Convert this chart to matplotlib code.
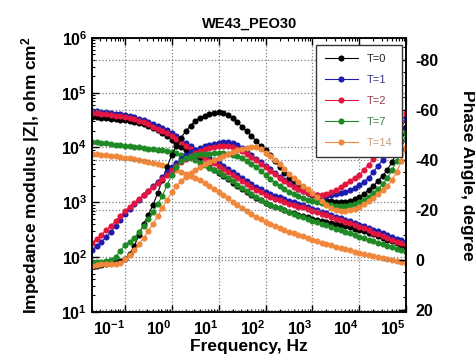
import numpy as np
import matplotlib

matplotlib.use("Agg")
import matplotlib.pyplot as plt
from matplotlib.ticker import LogLocator, FixedLocator, MultipleLocator, NullFormatter

plt.rcParams["font.family"] = ["Liberation Sans", "DejaVu Sans"]
plt.rcParams["font.weight"] = "bold"
plt.rcParams["axes.unicode_minus"] = False
plt.rcParams["mathtext.fontset"] = "custom"
plt.rcParams["mathtext.rm"] = "Liberation Sans:bold"
plt.rcParams["mathtext.bf"] = "Liberation Sans:bold"
plt.rcParams["mathtext.it"] = "Liberation Sans:bold"

# frequency grid, Hz (10 points per decade)
freq = [0.02, 0.0251, 0.0316, 0.0398, 0.0501, 0.0631, 0.0794,
        0.1, 0.126, 0.158, 0.2, 0.251, 0.316, 0.398, 0.501, 0.631, 0.794,
        1, 1.26, 1.58, 2, 2.51, 3.16, 3.98, 5.01, 6.31, 7.94,
        10, 12.6, 15.8, 20, 25.1, 31.6, 39.8, 50.1, 63.1, 79.4,
        100, 126, 158, 200, 251, 316, 398, 501, 631, 794,
        1000, 1260, 1580, 2000, 2510, 3160, 3980, 5010, 6310, 7940,
        10000, 12600, 15800, 20000, 25100, 31600, 39800, 50100, 63100, 79400,
        100000]

labels = ["T=0", "T=1", "T=2", "T=7", "T=14"]
colors = ["#000000", "#1c1cb0", "#e3163f", "#1f8a25", "#f0873a"]
legend_text_colors = ["#222222", "#3a3a8a", "#9a3a4a", "#3a7a4a", "#c8a080"]

# |Z|, ohm cm2
z_t0 = [36200, 35400, 34700, 34000, 33300, 32600, 31900, 31200, 30600, 29300,
        28100, 26400, 24800, 22800, 20500, 18500, 15900, 13800, 11900, 10300,
        8850, 7640, 6740, 5820, 5020, 4430, 3900, 3440, 3030, 2620,
        2260, 1990, 1760, 1550, 1360, 1200, 1080, 975, 897, 824,
        774, 727, 668, 627, 589, 565, 530, 498, 477, 458,
        439, 421, 404, 387, 363, 348, 327, 313, 294, 277,
        260, 244, 224, 206, 193, 178, 167, 154]
z_t1 = [46600, 45600, 44700, 43700, 42800, 41000, 40200, 39400, 37700, 35400,
        33300, 31200, 29300, 27000, 24800, 22800, 20500, 18500, 16300, 14100,
        12100, 10500, 9040, 8140, 7330, 6460, 5820, 5240, 4620, 4060,
        3590, 3160, 2790, 2460, 2170, 1910, 1720, 1550, 1420, 1310,
        1230, 1150, 1060, 995, 935, 877, 824, 759, 711, 668,
        627, 577, 542, 508, 477, 448, 412, 387, 363, 341,
        313, 294, 277, 254, 234, 215, 202, 189]
z_t2 = [42900, 42000, 41100, 40200, 39400, 37700, 37000, 36200, 34700, 32600,
        30600, 28700, 27000, 23800, 21800, 20100, 18000, 16300, 14300, 12400,
        10600, 9240, 7960, 7160, 6450, 5680, 5120, 4610, 4070, 3570,
        3160, 2780, 2460, 2160, 1910, 1680, 1510, 1360, 1250, 1150,
        1080, 1010, 933, 876, 823, 807, 758, 698, 654, 615,
        577, 531, 499, 467, 439, 412, 379, 356, 334, 314,
        275, 259, 244, 224, 206, 189, 178, 166]
z_t7 = [12700, 12400, 12100, 11900, 11600, 11200, 10900, 10700, 10500, 10300,
        10000, 9840, 9430, 9230, 9040, 8850, 8670, 8310, 7810, 7330,
        6880, 6320, 5820, 5240, 4710, 4240, 3900, 3590, 3160, 2790,
        2410, 2080, 1830, 1610, 1420, 1250, 1110, 975, 897, 824,
        774, 727, 668, 614, 565, 530, 498, 458, 430, 404,
        379, 356, 327, 307, 288, 271, 249, 234, 219, 206,
        193, 182, 174, 160, 150, 141, 133, 124]
z_t14 = [7640, 7480, 7330, 7180, 7030, 6880, 6740, 6460, 6320, 6190,
         5940, 5690, 5460, 5240, 5020, 4810, 4520, 4240, 3900, 3590,
         3300, 3030, 2790, 2510, 2260, 1990, 1760, 1550, 1360, 1180,
         1020, 897, 791, 697, 614, 542, 488, 439, 404, 371,
         341, 313, 288, 271, 254, 239, 224, 206, 193, 182,
         171, 163, 154, 147, 138, 133, 124, 119, 114, 110,
         105, 101, 96.7, 92.7, 88.9, 85.3, 81.8, 78.4]

# phase angle, degree
ph_t0 = [2.4, 2.4, 2.0, 1.6, 1.2, 0.8, 0.4, -0.4, -2.4, -5.6,
         -10.0, -14.4, -18.0, -22.0, -26.8, -32.0, -37.2, -42.0, -45.6, -48.8,
         -51.6, -53.6, -55.6, -56.8, -57.6, -58.4, -58.8, -59.2, -58.8, -58.0,
         -56.8, -55.2, -53.2, -51.6, -49.6, -47.6, -45.6, -44.0, -42.0, -39.6,
         -37.2, -34.8, -32.8, -30.8, -29.2, -28.0, -26.8, -26.0, -25.2, -24.4,
         -24.0, -23.6, -23.2, -23.2, -23.2, -23.6, -24.4, -25.2, -26.4, -28.0,
         -29.6, -31.6, -33.6, -36.0, -39.2, -42.8, -47.6, -53.2]
ph_t1 = [-4.0, -5.6, -7.2, -9.2, -11.2, -13.6, -16.0, -18.4, -20.4, -22.4,
         -24.0, -26.0, -27.6, -29.6, -31.2, -33.2, -35.2, -37.2, -38.8, -40.4,
         -42.0, -43.2, -44.0, -44.8, -45.6, -46.0, -46.4, -46.8, -47.2, -47.2,
         -46.8, -46.0, -44.8, -43.2, -42.0, -40.4, -39.2, -37.6, -36.4, -34.8,
         -33.2, -32.0, -30.8, -29.6, -28.4, -27.6, -26.8, -26.4, -26.0, -25.6,
         -25.6, -26.0, -26.4, -26.8, -27.2, -28.0, -28.8, -30.0, -31.2, -32.8,
         -35.2, -37.6, -40.0, -42.8, -46.0, -49.2, -52.8, -57.2]
ph_t2 = [-6.8, -8.4, -10.0, -12.0, -13.6, -15.6, -17.6, -19.6, -21.2, -22.8,
         -24.4, -26.0, -27.6, -29.2, -30.8, -32.4, -34.0, -36.0, -37.6, -39.2,
         -40.4, -41.6, -42.8, -43.6, -44.4, -44.8, -45.2, -45.6, -45.6, -45.6,
         -45.2, -44.4, -43.6, -42.4, -41.2, -40.0, -38.4, -37.2, -35.6, -34.4,
         -32.8, -31.6, -30.4, -29.2, -28.4, -27.6, -26.8, -26.4, -26.0, -26.0,
         -26.4, -27.2, -28.0, -29.2, -30.4, -31.6, -32.8, -34.0, -36.0, -38.0,
         -40.4, -42.4, -44.4, -46.8, -49.2, -52.0, -55.2, -58.8]
ph_t7 = [0.8, 0.8, 0.8, 0.4, 0.0, -1.2, -3.6, -6.0, -7.2, -8.8,
         -11.2, -13.6, -16.4, -19.2, -22.4, -25.6, -30.0, -34.0, -37.2, -39.6,
         -40.8, -41.6, -42.0, -42.4, -42.4, -42.4, -42.8, -42.8, -42.8, -42.4,
         -42.0, -41.6, -40.8, -39.6, -38.4, -37.2, -35.6, -34.0, -32.4, -30.8,
         -29.6, -28.4, -27.2, -26.4, -25.6, -24.8, -24.0, -23.6, -23.2, -22.8,
         -22.4, -22.0, -21.6, -21.6, -21.6, -22.0, -22.4, -23.2, -24.0, -25.2,
         -26.8, -28.4, -30.4, -32.8, -36.0, -39.6, -44.4, -50.8]
ph_t14 = [2.4, 2.0, 1.6, 1.6, 1.6, 1.6, 1.2, -0.4, -2.0, -4.0,
          -6.4, -8.8, -11.6, -14.4, -17.6, -20.8, -24.0, -27.2, -29.6, -31.6,
          -33.2, -34.8, -36.0, -37.2, -38.4, -39.2, -40.0, -40.8, -41.6, -42.4,
          -43.2, -44.0, -44.4, -44.8, -45.2, -45.2, -44.4, -42.8, -41.6, -40.0,
          -38.4, -36.4, -34.4, -32.8, -31.2, -29.6, -28.4, -26.8, -25.2, -23.6,
          -22.0, -20.8, -20.0, -19.6, -19.6, -20.0, -20.4, -21.2, -22.4, -23.6,
          -24.8, -26.4, -28.0, -29.6, -32.0, -35.2, -39.6, -45.2]

modulus = [z_t0, z_t1, z_t2, z_t7, z_t14]
phase = [ph_t0, ph_t1, ph_t2, ph_t7, ph_t14]

fig = plt.figure(figsize=(4.75, 3.64), dpi=100)
ax = fig.add_axes([0.194, 0.143, 0.661, 0.753])
ax2 = ax.twinx()

mk = dict(marker="o", markersize=4.4, linewidth=0.8, markeredgewidth=0)
handles = []
for z, ph, lab, c in zip(modulus, phase, labels, colors):
    ax.plot(freq, z, color=c, **mk)
    h, = ax2.plot(freq, ph, color=c, label=lab, **mk)
    handles.append(h)

ax.set_xscale("log")
ax.set_yscale("log")
ax.set_xlim(0.02, 1.0e5)
ax.set_ylim(10, 1e6)
ax2.set_ylim(20.8, -88.8)

ax.xaxis.set_major_locator(FixedLocator([0.1, 1, 10, 100, 1000, 10000, 100000]))
ax.xaxis.set_minor_locator(LogLocator(base=10, subs=np.arange(2, 10), numticks=20))
ax.xaxis.set_minor_formatter(NullFormatter())
ax.set_xticklabels([r"$\mathbf{10^{%d}}$" % e for e in range(-1, 6)], ha="right")
ax.yaxis.set_major_locator(FixedLocator([10, 100, 1000, 1e4, 1e5, 1e6]))
ax.yaxis.set_minor_locator(LogLocator(base=10, subs=np.arange(2, 10), numticks=20))
ax.yaxis.set_minor_formatter(NullFormatter())
ax.set_yticklabels([r"$\mathbf{10^{%d}}$" % e for e in range(1, 7)])

ax2.yaxis.set_major_locator(FixedLocator([20, 0, -20, -40, -60, -80]))
ax2.yaxis.set_minor_locator(MultipleLocator(5))

ax.tick_params(which="both", direction="in", top=True, right=False, labelsize=11.5)
ax.tick_params(which="major", length=5, width=1.0)
ax.tick_params(which="minor", length=2.5, width=0.8)
ax.tick_params(axis="x", pad=5)
ax2.tick_params(which="both", direction="in", labelsize=11.5, pad=7)
ax2.tick_params(which="major", length=5, width=1.0)
ax2.tick_params(which="minor", length=2.5, width=0.8)
for lab in ax2.get_yticklabels():
    lab.set_fontweight("bold")

for a in (ax, ax2):
    for s in a.spines.values():
        s.set_linewidth(1.1)

ax.grid(True, which="major", linestyle=":", color="#808080", linewidth=0.9)
ax2.grid(True, which="major", axis="y", linestyle=":", color="#808080", linewidth=0.9)

ax.set_title("WE43_PEO30", fontsize=10.5, fontweight="bold", pad=7)
ax.set_xlabel("Frequency, Hz", fontsize=12.5, fontweight="bold", labelpad=1)
ax.set_ylabel(r"Impedance modulus |Z|, ohm cm$^\mathbf{2}$", fontsize=12.5, fontweight="bold", labelpad=14)
ax2.set_ylabel("Phase Angle, degree", fontsize=12.5, fontweight="bold", rotation=270, labelpad=26)

leg = ax2.legend(handles=handles, loc="upper left", bbox_to_anchor=(0.695, 0.995),
                 fontsize=8, handlelength=3.0, labelspacing=1.0, borderpad=0.8,
                 fancybox=False, framealpha=1, edgecolor="#333333")
leg.get_frame().set_linewidth(1.0)
for txt, c in zip(leg.get_texts(), legend_text_colors):
    txt.set_color(c)
    txt.set_fontweight("normal")

fig.savefig("out.png", dpi=100)
